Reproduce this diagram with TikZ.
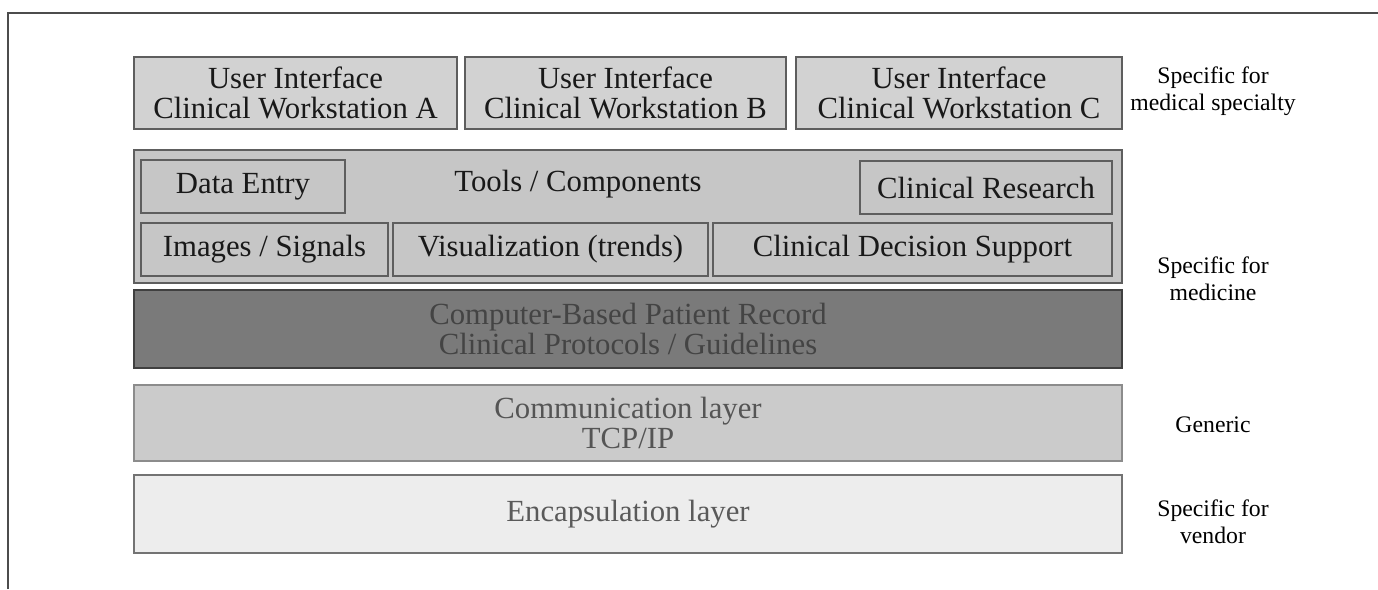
\documentclass[tikz,border=0pt]{standalone}
\usepackage{fontspec}
\setmainfont{Liberation Serif}
\usetikzlibrary{positioning}

\definecolor{uifill}{HTML}{D2D2D2}
\definecolor{toolfill}{HTML}{C6C6C6}
\definecolor{recfill}{HTML}{7A7A7A}
\definecolor{recink}{HTML}{444444}
\definecolor{comfill}{HTML}{CBCBCB}
\definecolor{comink}{HTML}{555555}
\definecolor{encfill}{HTML}{EDEDED}
\definecolor{encink}{HTML}{5A5A5A}
\definecolor{edge}{HTML}{5E5E5E}

\newdimen\upx \upx=0.02cm

\tikzset{
  layer/.style={draw=edge, line width=1.4pt, inner sep=0pt, align=center,
    text=black!90, font=\fontsize{17.5}{17}\selectfont},
  uibox/.style={layer, fill=uifill, minimum height=72\upx},
  toolbox/.style={layer, fill=toolfill, minimum height=53\upx},
  side/.style={align=center, font=\fontsize{13.5}{15.5}\selectfont}
}

\begin{document}
\begin{tikzpicture}[x=\upx, y=-\upx]
  \useasboundingbox (0,0) rectangle (1378,589);

  %% Frame
  \draw[line width=1.2pt, black!70] (8,589) -- (8,13) -- (1378,13);

  %% User interfaces
  \node[uibox, minimum width=323\upx] (uiA) at (295.5,93)
    {User Interface\\Clinical Workstation A};
  \node[uibox, minimum width=321\upx] (uiB) at (625.5,93)
    {User Interface\\Clinical Workstation B};
  \node[uibox, minimum width=326\upx] (uiC) at (959,93)
    {User Interface\\Clinical Workstation C};

  %% Tools / components
  \node[layer, fill=toolfill, minimum width=988\upx, minimum height=133\upx]
    (tools) at (628,216.5) {};
  \node[layer, draw=none] (toolstitle) at (578,184) {Tools / Components};
  \node[toolbox, minimum width=204\upx] (entry) at (243,186.5) {Data Entry};
  \node[toolbox, minimum width=252\upx] (research) at (986,187.5)
    {Clinical Research};
  \node[toolbox, minimum width=247\upx] (images) at (264.5,249.5)
    {Images / Signals};
  \node[toolbox, minimum width=315\upx] (visual) at (550.5,249.5)
    {Visualization (trends)};
  \node[toolbox, minimum width=399\upx] (decision) at (912.5,249.5)
    {Clinical Decision Support};

  %% Patient record
  \node[layer, fill=recfill, draw=black!75, text=recink,
    minimum width=988\upx, minimum height=78\upx] (record) at (628,329)
    {Computer-Based Patient Record\\Clinical Protocols / Guidelines};

  %% Communication
  \node[layer, fill=comfill, draw=black!45, text=comink,
    minimum width=988\upx, minimum height=76\upx] (comm) at (628,423)
    {Communication layer\\TCP/IP};

  %% Encapsulation
  \node[layer, fill=encfill, draw=black!55, text=encink,
    minimum width=988\upx, minimum height=78\upx] (encap) at (628,514)
    {Encapsulation layer};

  %% Scope of each level
  \node[side] (forspecialty) at (1213,91.5) {Specific for\\medical specialty};
  \node[side] (formedicine) at (1213,278.5) {Specific for\\medicine};
  \node[side] (forall) at (1213,425) {Generic};
  \node[side] (forvendor) at (1213,521.5) {Specific for\\vendor};

\end{tikzpicture}
\end{document}
